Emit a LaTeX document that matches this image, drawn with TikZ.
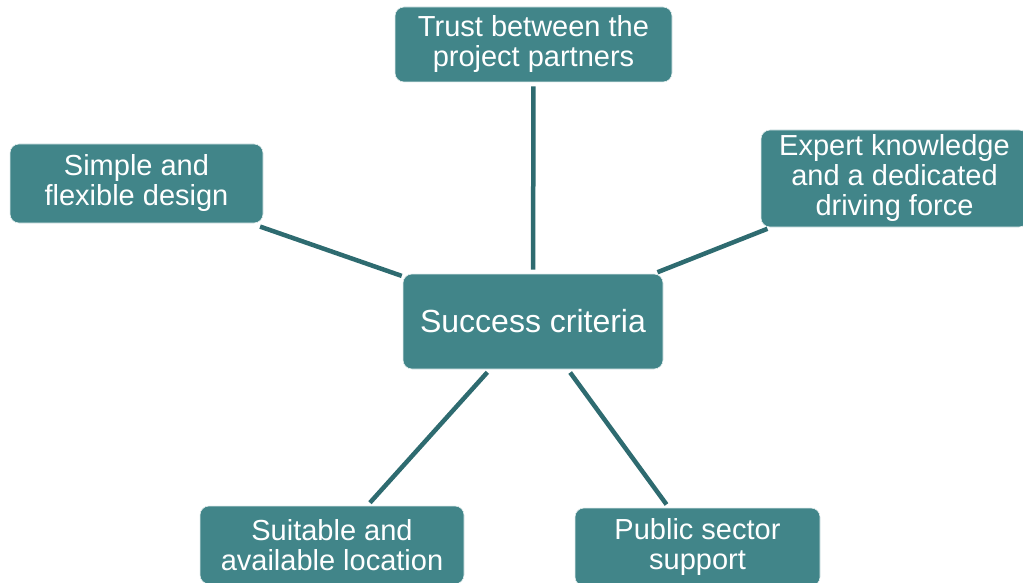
\documentclass[tikz,border=0pt]{standalone}
\usepackage{fontspec}
\setmainfont{Liberation Sans}
\definecolor{boxfill}{HTML}{418589}
\definecolor{linkcol}{HTML}{2E6B70}
\begin{document}
\begin{tikzpicture}[x=1pt,y=-1pt,
  crit/.style={draw=white!85!boxfill, line width=0.6pt, fill=boxfill, rounded corners=9pt, text=white,
    align=center, inner sep=0pt, font=\fontsize{29pt}{30pt}\selectfont},
  link/.style={draw=linkcol, line width=4.5pt, shorten >=4pt, shorten <=4pt}]
\useasboundingbox (0,0) rectangle (1023,583);
\clip (0,0) rectangle (1023,583);
\node[crit, minimum width=260pt, minimum height=95pt, font=\fontsize{32pt}{34pt}\selectfont] (c) at (533,321.5) {Success criteria};
\node[crit, minimum width=277pt, minimum height=75pt] (t) at (533.5,44.5) {Trust between the\\project partners};
\node[crit, minimum width=253pt, minimum height=79pt] (l) at (136.5,183.5) {Simple and\\flexible design};
\node[crit, minimum width=267pt, minimum height=97pt] (r) at (894.5,178.5) {Expert knowledge\\and a dedicated\\driving force};
\node[crit, minimum width=264pt, minimum height=78pt] (bl) at (332,545) {Suitable and\\available location};
\node[crit, minimum width=245pt, minimum height=78pt] (br) at (697.5,547) {Public sector\\support};
\draw[link] (t) -- (c);
\draw[link, shorten <=10pt, shorten >=1pt] (l) -- (c);
\draw[link] (r) -- (c);
\draw[link] (bl) -- (c);
\draw[link] (br) -- (c);
\end{tikzpicture}
\end{document}
